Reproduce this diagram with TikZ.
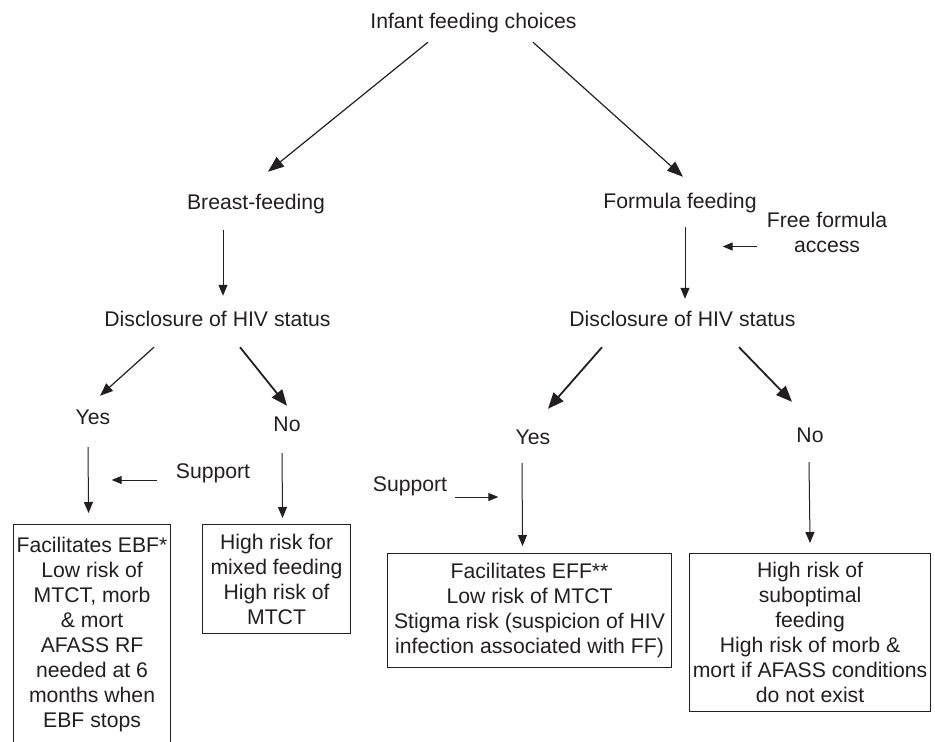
\documentclass[tikz,border=0pt]{standalone}
\usepackage{fontspec}
\setmainfont{Liberation Sans}
\usetikzlibrary{arrows.meta}

\definecolor{ink}{RGB}{35,31,32}

\tikzset{
  lbl/.style={inner sep=0pt, text height=15pt, text depth=4pt, align=center, text=ink},
  outcome/.style={draw=ink, line width=1.1pt, anchor=north west, inner sep=0pt, align=center, text=ink},
  arr/.style={draw=ink, line width=1pt, -{Triangle[length=11pt,width=9pt]}},
  smallarr/.style={draw=ink, line width=1pt, -{Triangle[length=10pt,width=8pt]}},
  midarr/.style={draw=ink, line width=1.2pt, -{Triangle[length=13pt,width=10pt]}},
  bigarr/.style={draw=ink, line width=1.2pt, -{Triangle[length=16pt,width=12pt]}},
  boldarr/.style={draw=ink, line width=1.8pt, -{Triangle[length=16pt,width=13pt]}}
}

\begin{document}
\begin{tikzpicture}[x=1pt, y=-1pt, font=\fontsize{21.2}{25}\selectfont]

  \useasboundingbox (0, 0) rectangle (935, 742) ;

  % root
  \node[lbl] (choice) at (473.5, 23) {Infant feeding choices} ;

  % two options
  \node[lbl] (breast)  at (256, 204) {Breast-feeding} ;
  \node[lbl] (formula) at (680, 203) {Formula feeding} ;
  \node[lbl] (free)    at (827, 246.5) {Free formula\\access} ;

  % disclosure
  \node[lbl] (discL) at (217.5, 321) {Disclosure of HIV status} ;
  \node[lbl] (discR) at (682.5, 321) {Disclosure of HIV status} ;

  % answers
  \node[lbl] (yesL) at (93 , 419) {Yes} ;
  \node[lbl] (noL)  at (287, 426) {No} ;
  \node[lbl] (yesR) at (533, 439) {Yes} ;
  \node[lbl] (noR)  at (810, 437) {No} ;

  % support
  \node[lbl] (suppL) at (213, 473) {Support} ;
  \node[lbl] (suppR) at (410, 486) {Support} ;

  % outcome boxes
  \node[outcome, minimum width=157pt, minimum height=220pt] (ebf) at (13, 524)
    {Facilitates EBF*\\Low risk of\\MTCT, morb\\\& mort\\AFASS RF\\needed at 6\\months when\\EBF stops} ;
  \node[outcome, minimum width=148pt, minimum height=109pt] (mixed) at (202, 524)
    {High risk for\\mixed feeding\\High risk of\\MTCT} ;
  \node[outcome, minimum width=284pt, minimum height=114pt] (eff) at (387, 553)
    {Facilitates EFF**\\Low risk of MTCT\\Stigma risk (suspicion of HIV\\infection associated with FF)} ;
  \node[outcome, minimum width=241pt, minimum height=158pt] (subopt) at (689, 553)
    {High risk of\\suboptimal\\feeding\\High risk of morb \&\\mort if AFASS conditions\\do not exist} ;

  % root to options
  \draw[bigarr] ([xshift=-45.5pt, yshift=-9.5pt]choice.south) -- ([xshift=12pt, yshift=22.5pt]breast.north) ;
  \draw[bigarr] ([xshift=59.5pt, yshift=-9.5pt]choice.south) -- ([xshift=3pt, yshift=16.5pt]formula.north) ;

  % options to disclosure
  \draw[arr] ([xshift=-33pt, yshift=-16.5pt]breast.south) -- ([xshift=5.5pt, yshift=15.5pt]discL.north) ;
  \draw[arr] ([xshift=5pt, yshift=-14.5pt]formula.south) -- ([xshift=2.5pt, yshift=12.5pt]discR.north) ;
  \draw[smallarr] ([xshift=-10pt]free.west) -- ([xshift=-44pt]free.west) ;

  % disclosure to answers
  \draw[midarr]  ([xshift=-63.5pt, yshift=-16.5pt]discL.south) -- ([xshift=7pt, yshift=13.5pt]yesL.north) ;
  \draw[boldarr] ([xshift=22.5pt, yshift=-16.5pt]discL.south) -- ([yshift=10.5pt]noL.north) ;
  \draw[boldarr] ([xshift=-80.5pt, yshift=-16.5pt]discR.south) -- ([xshift=15pt, yshift=20.5pt]yesR.north) ;
  \draw[boldarr] ([xshift=56.5pt, yshift=-16.5pt]discR.south) -- ([xshift=-18pt, yshift=25.5pt]noR.north) ;

  % answers to outcomes
  \draw[arr] ([xshift=-5pt, yshift=-18.5pt]yesL.south) -- ([xshift=-3.5pt, yshift=11pt]ebf.north) ;
  \draw[arr] ([xshift=-5pt, yshift=-17.5pt]noL.south) -- ([xshift=6pt, yshift=6pt]mixed.north) ;
  \draw[arr] ([xshift=-11pt, yshift=-14.5pt]yesR.south) -- ([xshift=-7pt, yshift=7pt]eff.north) ;
  \draw[arr] ([xshift=-1pt, yshift=-15.5pt]noR.south) -- ([yshift=10pt]subopt.north) ;

  % support arrows
  \draw[smallarr] ([xshift=-19pt, yshift=-7pt]suppL.west) -- ([xshift=-64pt, yshift=-7pt]suppL.west) ;
  \draw[smallarr] ([xshift=8pt, yshift=-11pt]suppR.east) -- ([xshift=51pt, yshift=-11pt]suppR.east) ;

\end{tikzpicture}
\end{document}
